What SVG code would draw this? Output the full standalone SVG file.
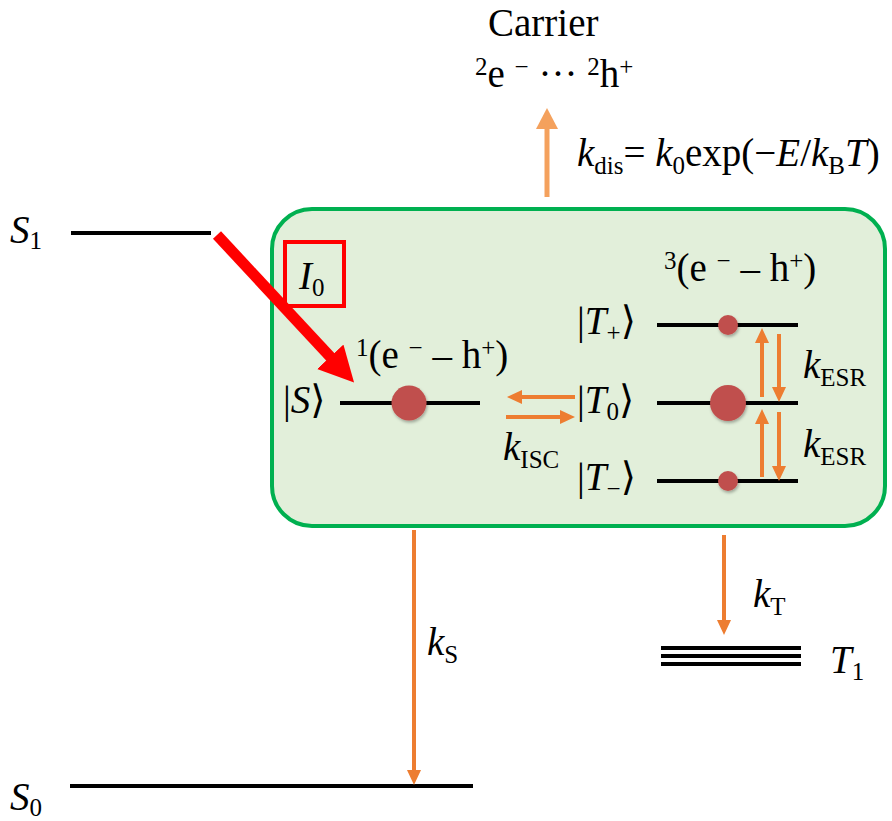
<svg xmlns="http://www.w3.org/2000/svg" width="892" height="821" viewBox="0 0 892 821">
<style>
text{font-family:"Liberation Serif","DejaVu Serif","DejaVu Sans",serif;font-size:39px;fill:#000}
.i{font-style:italic}
.s{font-size:25px}
.lvl{stroke:#000;stroke-width:4;fill:none}
.or{stroke:#ED7D31;stroke-width:4;fill:none;marker-end:url(#ah)}
.dot{fill:#C0504D;filter:url(#sh)}
</style>
<defs>
<marker id="ah" markerUnits="userSpaceOnUse" markerWidth="16" markerHeight="16" viewBox="0 0 16 16" refX="1" refY="8" orient="auto"><path d="M0,1 L15,8 L0,15 z" fill="#ED7D31"/></marker>
<marker id="ah2" markerUnits="userSpaceOnUse" markerWidth="22" markerHeight="22" viewBox="0 0 22 22" refX="1" refY="11" orient="auto"><path d="M0,0 L21,11 L0,22 z" fill="#F4A15D"/></marker>
<marker id="ahr" markerUnits="userSpaceOnUse" markerWidth="36" markerHeight="36" viewBox="0 0 36 36" refX="2" refY="18" orient="auto"><path d="M0,0 L35,18 L0,36 z" fill="#FF0000"/></marker>
<filter id="sh" x="-50%" y="-50%" width="200%" height="200%"><feDropShadow dx="1" dy="2" stdDeviation="1.5" flood-color="#000" flood-opacity="0.3"/></filter>
</defs>

<g id="exciton-box">
<rect x="272" y="209" width="613" height="317" rx="40" ry="40" fill="#E2EFDA" stroke="#00B050" stroke-width="4"/>
</g>

<g id="S1">
<line class="lvl" x1="71" y1="233" x2="211" y2="233"/>
<text x="10" y="243" class="i">S<tspan class="s" font-style="normal" dy="6">1</tspan></text>
</g>

<g id="S0">
<line class="lvl" x1="70" y1="786" x2="473" y2="786"/>
<text x="10" y="810" class="i">S<tspan class="s" font-style="normal" dy="6">0</tspan></text>
</g>

<g id="T1">
<line class="lvl" x1="661" y1="648" x2="801" y2="648"/>
<line class="lvl" x1="661" y1="656" x2="801" y2="656"/>
<line class="lvl" x1="661" y1="664" x2="801" y2="664"/>
<text x="830" y="673" class="i">T<tspan class="s" font-style="normal" dy="7">1</tspan></text>
</g>

<g id="carrier">
<text x="488" y="36" font-size="38">Carrier</text>
<text x="475" y="87"><tspan class="s" dy="-12">2</tspan><tspan dy="12">e </tspan><tspan class="s" dy="-12">−</tspan><tspan dy="12"> ··· </tspan><tspan class="s" dy="-12">2</tspan><tspan dy="12">h</tspan><tspan class="s" dy="-12">+</tspan></text>
</g>

<g id="I0">
<rect x="285" y="242" width="59" height="64" fill="none" stroke="#FF0000" stroke-width="4"/>
<text x="299" y="289" class="i">I<tspan class="s" font-style="normal" dy="7">0</tspan></text>
</g>

<g id="singlet">
<text x="356" y="368"><tspan class="s" dy="-12">1</tspan><tspan dy="12">(e </tspan><tspan class="s" dy="-12">−</tspan><tspan dy="12"> – h</tspan><tspan class="s" dy="-12">+</tspan><tspan dy="12">)</tspan></text>
<text x="283" y="413">|<tspan class="i">S</tspan>⟩</text>
<line class="lvl" x1="340" y1="403" x2="480" y2="403"/>
<circle class="dot" cx="409" cy="403" r="17.5"/>
</g>

<g id="triplet">
<text x="664" y="281"><tspan class="s" dy="-12">3</tspan><tspan dy="12">(e </tspan><tspan class="s" dy="-12">−</tspan><tspan dy="12"> – h</tspan><tspan class="s" dy="-12">+</tspan><tspan dy="12">)</tspan></text>
<text x="577" y="334">|<tspan class="i">T</tspan><tspan class="s" dy="7">+</tspan><tspan dy="-7">⟩</tspan></text>
<text x="577" y="413">|<tspan class="i">T</tspan><tspan class="s" dy="7">0</tspan><tspan dy="-7">⟩</tspan></text>
<text x="577" y="490">|<tspan class="i">T</tspan><tspan class="s" dy="7">−</tspan><tspan dy="-7">⟩</tspan></text>
<line class="lvl" x1="657" y1="325" x2="798" y2="325"/>
<line class="lvl" x1="657" y1="403" x2="798" y2="403"/>
<line class="lvl" x1="657" y1="481" x2="798" y2="481"/>
<circle class="dot" cx="728" cy="325" r="10"/>
<circle class="dot" cx="728" cy="403" r="18"/>
<circle class="dot" cx="728" cy="481" r="10"/>
</g>

<g id="connectors">
<line x1="217" y1="235" x2="331.6" y2="358.3" stroke="#FF0000" stroke-width="11" marker-end="url(#ahr)"/>
<line x1="547" y1="197" x2="547" y2="128" stroke="#F4A15D" stroke-width="5" marker-end="url(#ah2)"/>
<line class="or" x1="575" y1="397" x2="521" y2="397"/>
<line class="or" x1="506" y1="417" x2="561" y2="417"/>
<line class="or" x1="762" y1="397" x2="762" y2="342"/>
<line class="or" x1="779" y1="334" x2="779" y2="388"/>
<line class="or" x1="762" y1="477" x2="762" y2="423"/>
<line class="or" x1="779" y1="412" x2="779" y2="467"/>
<line class="or" x1="414" y1="530" x2="414" y2="771"/>
<line class="or" x1="724" y1="535" x2="724" y2="621"/>
</g>

<g id="labels">
<text x="577" y="166"><tspan class="i">k</tspan><tspan class="s" dy="8">dis</tspan><tspan dy="-8">= </tspan><tspan class="i">k</tspan><tspan class="s" dy="8">0</tspan><tspan dy="-8">exp(−</tspan><tspan class="i">E</tspan>/<tspan class="i">k</tspan><tspan class="s" dy="8">B</tspan><tspan class="i" dy="-8">T</tspan>)</text>
<text x="503" y="460"><tspan class="i">k</tspan><tspan class="s" dy="8">ISC</tspan></text>
<text x="803" y="378"><tspan class="i">k</tspan><tspan class="s" dy="8">ESR</tspan></text>
<text x="803" y="457"><tspan class="i">k</tspan><tspan class="s" dy="8">ESR</tspan></text>
<text x="427" y="655"><tspan class="i">k</tspan><tspan class="s" dy="8">S</tspan></text>
<text x="753" y="607"><tspan class="i">k</tspan><tspan class="s" dy="8">T</tspan></text>
</g>
</svg>
